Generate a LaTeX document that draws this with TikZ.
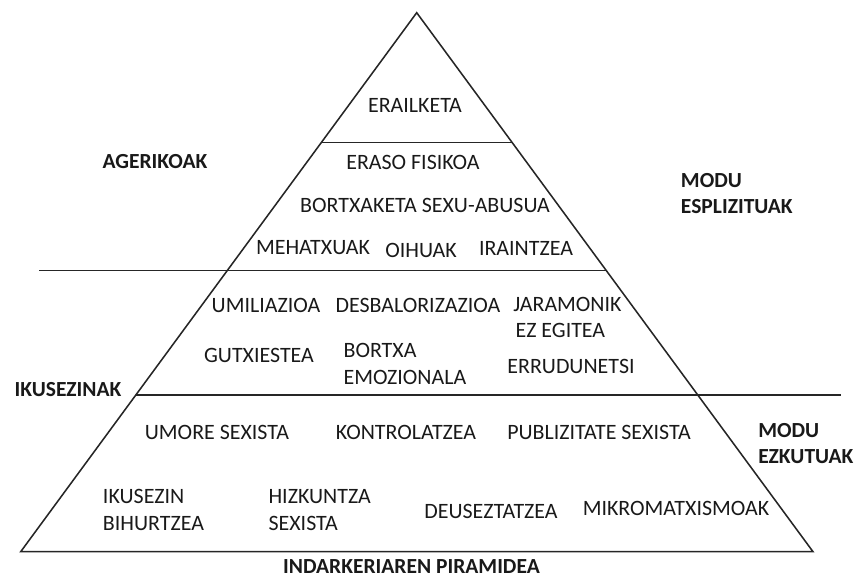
\documentclass[tikz,border=0pt]{standalone}
\usepackage{fontspec}
\setmainfont{Carlito}
\tikzset{
  lbl/.style={inner sep=0pt,font=\fontsize{15.6}{18.8}\selectfont,text=black!90},
  sidelbl/.style={lbl,font=\fontsize{15.3}{18.8}\selectfont\bfseries,align=left},
  twoline/.style={lbl,align=left,anchor=west},
  tier/.style={line width=1.1pt,black!85}
}

\begin{document}
\begin{tikzpicture}[x=0.25mm,y=-0.25mm]
  \useasboundingbox (0,0) rectangle (856,578);

  \coordinate (apex) at (416.7,12.7);
  \coordinate (bl) at (20.7,551.7);
  \coordinate (br) at (813,551.7);

  \coordinate (t1a) at (321.2,142.7);
  \coordinate (t1b) at (512.2,142.7);
  \coordinate (t2a) at (39.3,270.7);
  \coordinate (t2b) at (606.3,270.7);
  \coordinate (t3a) at (135.8,395);
  \coordinate (t3b) at (841,395);

  \draw [tier,line join=miter] (apex) -- (bl) -- (br) -- cycle;
  \draw [tier] (t1a) -- (t1b);
  \draw [tier] (t2a) -- (t2b);
  \draw [tier] (t3a) -- (t3b);

  \node [lbl] (erail) at (415,105) {ERAILKETA};

  \node [sidelbl] (ageri) at (155,162) {AGERIKOAK};
  \node [lbl] (eraso) at (413,162) {ERASO FISIKOA};
  \node [lbl] (bortx) at (425,205) {BORTXAKETA SEXU-ABUSUA};
  \node [lbl] (mehat) at (313,248) {MEHATXUAK};
  \node [lbl] (oihu) at (421,250) {OIHUAK};
  \node [lbl] (irain) at (526,248) {IRAINTZEA};
  \node [sidelbl,anchor=west] (espl) at (680.7,193.4) {MODU\\ESPLIZITUAK};

  \node [lbl] (umil) at (266,305) {UMILIAZIOA};
  \node [lbl] (desb) at (418,305) {DESBALORIZAZIOA};
  \node [twoline] (jaram) at (513,317.5) {JARAMONIK\\\hspace{1.7pt}EZ EGITEA};
  \node [lbl] (gutx) at (259,355) {GUTXIESTEA};
  \node [twoline] (emoz) at (343.3,364) {BORTXA\\EMOZIONALA};
  \node [lbl] (errud) at (571,366) {ERRUDUNETSI};
  \node [sidelbl] (ikus) at (68,390) {IKUSEZINAK};

  \node [lbl] (umore) at (217,432) {UMORE SEXISTA};
  \node [lbl] (kontr) at (406,432) {KONTROLATZEA};
  \node [lbl] (publi) at (599,432) {PUBLIZITATE SEXISTA};
  \node [sidelbl,anchor=west] (ezkut) at (758,443.3) {MODU\\EZKUTUAK};
  \node [twoline] (bihur) at (102.7,510) {IKUSEZIN\\BIHURTZEA};
  \node [twoline] (hizk) at (268.3,510) {HIZKUNTZA\\SEXISTA};
  \node [lbl] (deus) at (491,511.7) {DEUSEZTATZEA};
  \node [lbl] (mikro) at (676,508.3) {MIKROMATXISMOAK};

  \node [sidelbl] (titl) at (411.5,566.7) {INDARKERIAREN PIRAMIDEA};
\end{tikzpicture}
\end{document}
